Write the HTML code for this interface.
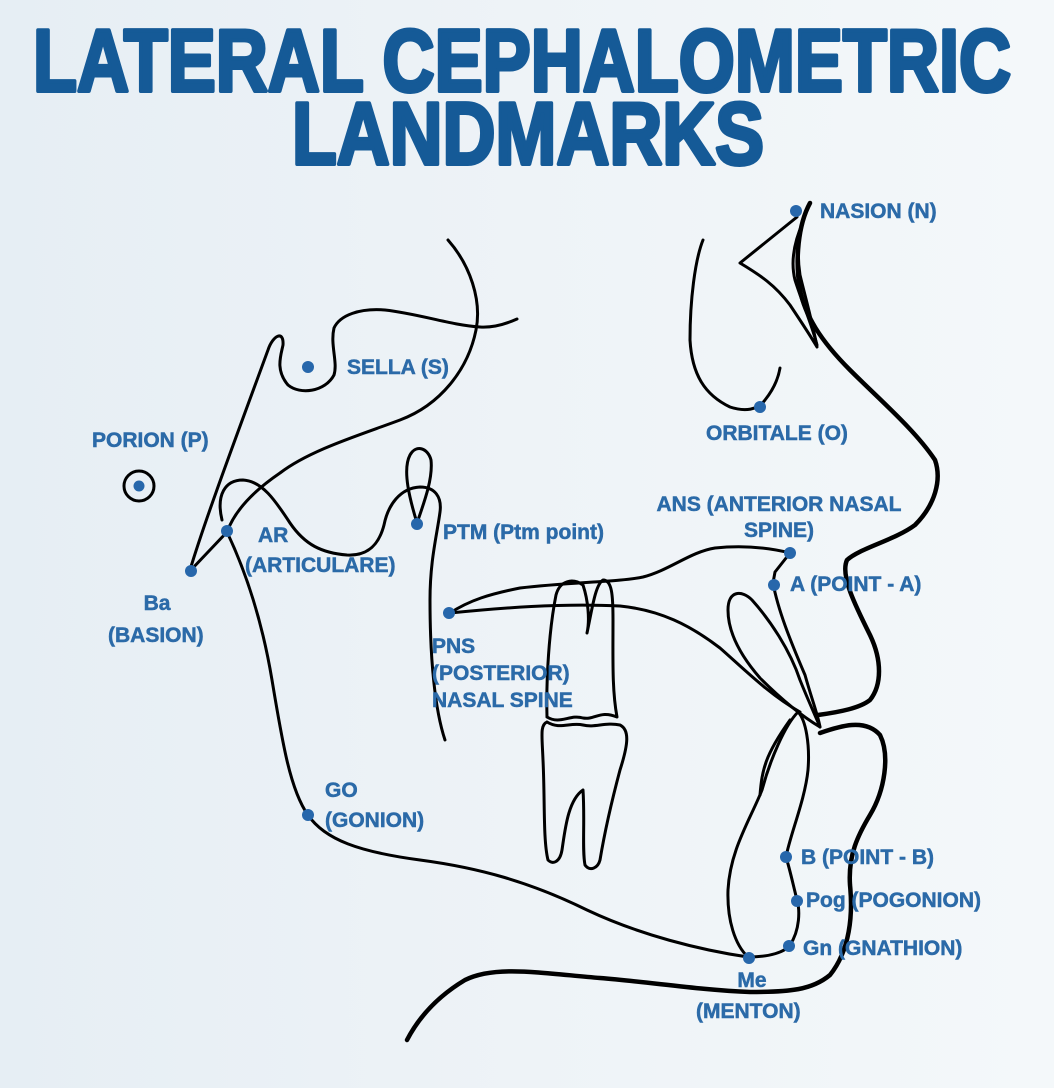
<!DOCTYPE html>
<html><head><meta charset="utf-8"><style>
html,body{margin:0;padding:0;}
body{width:1054px;height:1088px;overflow:hidden;background:linear-gradient(90deg,#e6eef4 0%,#eef3f7 50%,#f4f8fa 100%);}
svg{display:block}
.l{font-family:"Liberation Sans",sans-serif;font-weight:bold;font-size:21px;fill:#2b6aa8;stroke:#2b6aa8;stroke-width:0.5;}
.t{font-family:"Liberation Sans",sans-serif;font-weight:bold;font-size:88px;fill:#155a97;stroke:#155a97;stroke-width:4;stroke-linejoin:round;}
path{fill:none;stroke:#000;stroke-width:3;stroke-linecap:round;stroke-linejoin:round}
.k{stroke-width:4.5}
circle.d{fill:#2767ab}
</style></head><body>
<svg width="1054" height="1088" viewBox="0 0 1054 1088">
<text class="t" x="33" y="91" textLength="978" lengthAdjust="spacingAndGlyphs">LATERAL CEPHALOMETRIC</text>
<text class="t" x="292" y="164" textLength="472" lengthAdjust="spacingAndGlyphs">LANDMARKS</text>

<path d="M448,240 C470,265 482,300 476,330 C468,370 440,405 400,420 C360,435 310,450 280,473 C255,490 235,510 227,532 L190,571"/>
<path d="M190,570 C205,520 235,440 268,350 C273,335 284,330 283,345 C281,355 275,370 288,385 C300,395 325,392 334,375 C338,362 330,345 334,328 C340,315 360,308 385,310 C420,314 450,325 480,327 C495,328 508,323 517,319"/>
<path d="M222,520 C216,495 225,480 243,480 C262,481 275,500 290,523 C305,545 322,553 347,555 C365,556 378,548 384,525 C388,505 400,488 420,487 C435,487 442,497 440,512 C437,535 430,560 430,600 C430,660 435,710 445,740"/>
<path d="M417,523 C410,500 402,470 410,455 C416,444 428,448 431,460 C433,478 425,500 417,523"/>
<path d="M227,532 C245,570 262,620 272,680 C282,740 290,790 308,815 C325,840 360,852 420,860 C480,868 530,882 587,910 C640,935 700,950 748,957"/>
<path d="M748,957 C770,957 785,952 790,945 C800,930 800,910 797,900 C792,880 790,870 786,857 C790,835 805,800 808,770 C810,745 806,720 798,712 C785,725 770,760 762,790 C750,820 730,850 728,890 C727,920 735,945 748,957"/>
<path d="M760,795 C762,770 765,755 790,720"/>
<path d="M450,613 C470,600 490,594 520,588 C570,582 620,582 643,577 C670,570 690,552 715,548 C745,545 770,548 790,553 L775,572 L773,583 C778,610 790,640 805,675 C812,700 818,715 820,727"/>
<path d="M450,613 C500,608 560,603 620,606 C660,610 690,625 720,648 C745,670 770,695 800,712"/>
<path d="M820,727 C800,715 780,698 760,678 C740,655 728,632 728,610 C728,590 742,590 752,600 C770,620 790,650 800,680 C808,700 815,715 820,727"/>
<path d="M547,717 C546,680 549,630 556,595 C560,580 573,578 583,585 C588,600 590,620 587,633 C592,610 595,585 603,580 C612,580 613,595 613,620 C613,660 612,690 617,717 C600,710 595,720 583,718 C570,714 560,725 547,717"/>
<path d="M547,722 C540,725 542,735 543,760 C545,800 543,840 548,860 C553,865 560,862 562,850 C565,830 568,800 583,790 C585,820 582,850 585,865 C590,872 598,868 600,860 C605,830 612,800 620,770 C628,745 630,730 620,725 C605,722 595,728 583,725 C570,722 560,730 547,722"/>
<path d="M703,240 C695,260 690,300 690,340 C692,375 705,395 730,407 C745,412 758,410 765,400 C773,390 778,380 780,368"/>
<path d="M797,217 L740,263 C760,275 775,285 790,305 C800,320 810,335 817,347 C812,320 806,300 800,275 C797,255 798,235 803,220"/>
<path d="M803,222 C795,240 790,260 795,280 C803,305 812,325 817,345"/>
<path class="k" d="M810,203 C798,225 795,260 800,290 C805,315 820,340 850,370 C880,400 915,430 935,460 C942,480 935,505 915,525 C895,540 860,548 847,560 C840,575 855,605 870,635 C882,660 882,685 870,700 C860,708 840,712 818,715"/>
<path class="k" d="M820,733 C840,726 865,718 880,735 C890,755 885,790 870,815 C858,835 848,855 850,885 C853,915 850,950 830,975 C812,990 790,992 750,992 C700,990 650,982 600,978 C540,973 495,965 465,980 C440,995 420,1015 407,1040"/>
<circle cx="139" cy="486" r="15" fill="none" stroke="#000" stroke-width="3"/>
<circle class="d" cx="139" cy="486" r="5.5"/>
<circle class="d" cx="796" cy="211" r="6"/>
<circle class="d" cx="308" cy="367" r="6"/>
<circle class="d" cx="760" cy="407" r="6"/>
<circle class="d" cx="227" cy="531" r="6"/>
<circle class="d" cx="417" cy="524" r="6"/>
<circle class="d" cx="191" cy="571" r="6"/>
<circle class="d" cx="449" cy="613" r="6"/>
<circle class="d" cx="790" cy="553" r="6"/>
<circle class="d" cx="774" cy="585" r="6"/>
<circle class="d" cx="308" cy="815" r="6"/>
<circle class="d" cx="786" cy="857" r="6"/>
<circle class="d" cx="797" cy="901" r="6"/>
<circle class="d" cx="789" cy="946" r="6"/>
<circle class="d" cx="749" cy="958" r="6"/>
<text class="l" x="820" y="218">NASION (N)</text>
<text class="l" x="347" y="374">SELLA (S)</text>
<text class="l" x="92" y="447">PORION (P)</text>
<text class="l" x="706" y="440">ORBITALE (O)</text>
<text class="l" x="779" y="511" text-anchor="middle">ANS (ANTERIOR NASAL</text>
<text class="l" x="779" y="537" text-anchor="middle">SPINE)</text>
<text class="l" x="258" y="542">AR</text>
<text class="l" x="245" y="572">(ARTICULARE)</text>
<text class="l" x="443" y="539">PTM (Ptm point)</text>
<text class="l" x="790" y="591">A (POINT - A)</text>
<text class="l" x="157" y="610" text-anchor="middle">Ba</text>
<text class="l" x="108" y="642">(BASION)</text>
<text class="l" x="432" y="653">PNS</text>
<text class="l" x="432" y="680">(POSTERIOR)</text>
<text class="l" x="432" y="707">NASAL SPINE</text>
<text class="l" x="325" y="797">GO</text>
<text class="l" x="325" y="827">(GONION)</text>
<text class="l" x="801" y="864">B (POINT - B)</text>
<text class="l" x="806" y="907">Pog (POGONION)</text>
<text class="l" x="803" y="955">Gn (GNATHION)</text>
<text class="l" x="752" y="987" text-anchor="middle">Me</text>
<text class="l" x="696" y="1018">(MENTON)</text>
</svg>
</body></html>
